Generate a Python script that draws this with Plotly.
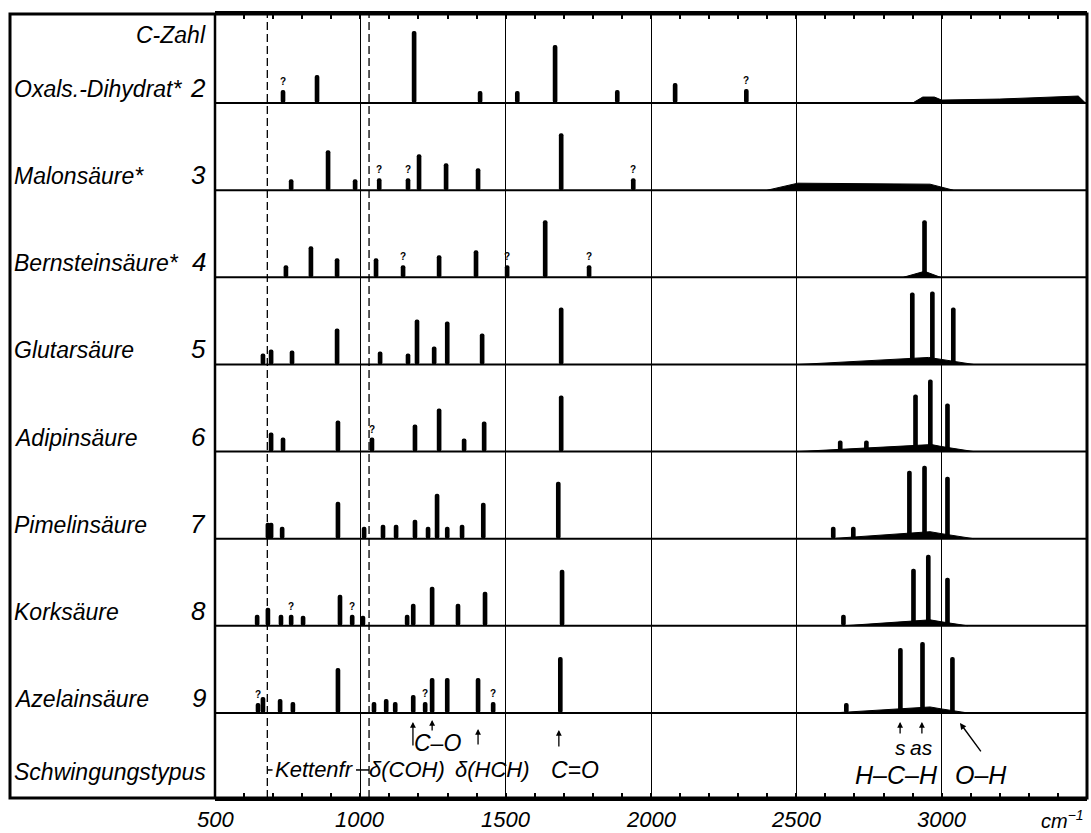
import plotly.graph_objects as go

# ---------------- data ----------------
compounds = ["Oxals.-Dihydrat*", "Malonsäure*", "Bernsteinsäure*", "Glutarsäure",
             "Adipinsäure", "Pimelinsäure", "Korksäure", "Azelainsäure"]
c_zahl = ["2", "3", "4", "5", "6", "7", "8", "9"]

# line positions (cm^-1) and heights (arbitrary intensity units)
oxal_pos = [734, 851, 1185, 1412, 1540, 1670, 1884, 2083, 2328]
oxal_h = [13, 28, 72, 12, 12, 58, 13, 20, 14]
oxal_q = [734, 2328]
oxal_band_x = [2900, 2935, 2975, 3000, 3200, 3420, 3470, 3495]
oxal_band_h = [0, 6, 6, 3, 4, 7, 7, 0]

malon_pos = [762, 889, 982, 1065, 1164, 1202, 1295, 1405, 1691, 1939]
malon_h = [11, 40, 11, 12, 12, 36, 27, 22, 57, 12]
malon_q = [1065, 1164, 1939]
malon_band_x = [2400, 2505, 2960, 3040]
malon_band_h = [0, 7, 6, 0]

bern_pos = [744, 830, 920, 1054, 1147, 1271, 1398, 1505, 1636, 1787, 2941]
bern_h = [12, 31, 19, 19, 12, 22, 27, 12, 57, 12, 57]
bern_q = [1147, 1505, 1787]
bern_band_x = [2868, 2941, 2996]
bern_band_h = [0, 6, 0]

glut_pos = [665, 693, 765, 920, 1068, 1164, 1195, 1254, 1299, 1419, 1691, 2899, 2968, 3040]
glut_h = [11, 15, 14, 36, 13, 11, 45, 18, 43, 31, 57, 72, 73, 57]
glut_q = []
glut_band_x = [2510, 2955, 3000, 3110]
glut_band_h = [0, 7, 5, 0]

adip_pos = [693, 734, 923, 1040, 1188, 1271, 1357, 1426, 1691, 2651, 2741, 2910, 2961, 3020]
adip_h = [19, 14, 31, 14, 27, 43, 13, 30, 56, 11, 11, 57, 72, 48]
adip_q = [1040]
adip_band_x = [2505, 2965, 3000, 3110]
adip_band_h = [0, 7, 5, 0]

pime_pos = [682, 693, 731, 923, 1013, 1078, 1123, 1188, 1233, 1264, 1299, 1350, 1423,
            1681, 2627, 2696, 2889, 2941, 3020]
pime_h = [16, 16, 12, 37, 12, 14, 14, 19, 12, 45, 12, 14, 36, 57, 12, 12, 68, 73, 62]
pime_q = []
pime_band_x = [2615, 2960, 3000, 3110]
pime_band_h = [0, 7, 5, 0]

kork_pos = [645, 682, 727, 762, 803, 930, 972, 1009, 1161, 1182, 1247, 1336, 1429, 1694,
            2662, 2903, 2954, 3020]
kork_h = [11, 18, 11, 11, 10, 31, 11, 10, 11, 22, 39, 22, 34, 56, 11, 57, 71, 48]
kork_q = [762, 972]
kork_band_x = [2660, 2960, 3000, 3090]
kork_band_h = [0, 6, 4, 0]

azel_pos = [648, 665, 724, 768, 923, 1047, 1089, 1120, 1182, 1223, 1247, 1299, 1405,
            1457, 1688, 2672, 2858, 2934, 3037]
azel_h = [10, 16, 14, 11, 45, 11, 14, 11, 18, 11, 35, 35, 35, 11, 56, 10, 65, 71, 56]
azel_q = [648, 1223, 1457]
azel_band_x = [2625, 2960, 3000, 3090]
azel_band_h = [0, 6, 4, 0]

major_ticks = [500, 1000, 1500, 2000, 2500, 3000]
tick_labels = ["500", "1000", "1500", "2000", "2500", "3000"]
dashed_lines = [680, 1030]

# Schwingungstypus row
type_labels = ["Kettenfr", "δ(COH)", "δ(HCH)", "C–O", "C=O", "s", "as", "H–C–H", "O–H"]
type_label_x = [841, 1160, 1453, 1264, 1739, 2857, 2932, 2846, 3135]
type_label_y = [-57, -57, -57, -30, -57, -35, -35, -62, -62]
type_label_size = [22, 22, 22, 23, 23, 21, 21, 25, 25]
arrow_x = [1181, 1247, 1405, 1683, 2857, 2932]
arrow_head_y = [-9, -7, -16, -17, -9, -9]
arrow_len = [25, 12, 17, 18, 13, 13]

spectra = [
    (oxal_pos, oxal_h, oxal_q, oxal_band_x, oxal_band_h),
    (malon_pos, malon_h, malon_q, malon_band_x, malon_band_h),
    (bern_pos, bern_h, bern_q, bern_band_x, bern_band_h),
    (glut_pos, glut_h, glut_q, glut_band_x, glut_band_h),
    (adip_pos, adip_h, adip_q, adip_band_x, adip_band_h),
    (pime_pos, pime_h, pime_q, pime_band_x, pime_band_h),
    (kork_pos, kork_h, kork_q, kork_band_x, kork_band_h),
    (azel_pos, azel_h, azel_q, azel_band_x, azel_band_h),
]

# ---------------- figure ----------------
ROW = 87.13
baselines = [(7 - i) * ROW for i in range(8)]
FONT = "Liberation Sans"

fig = go.Figure()
annotations = []

for i, (pos, h, q, bx, bh) in enumerate(spectra):
    b = baselines[i]
    fig.add_trace(go.Scatter(
        x=bx, y=[b + v for v in bh], mode="lines", fill="toself",
        fillcolor="black", line=dict(color="black", width=1),
        hoverinfo="skip", showlegend=False))
    fig.add_trace(go.Bar(
        x=pos, y=h, base=[b] * len(pos), width=16,
        marker=dict(color="black", line=dict(width=0), cornerradius=2),
        hoverinfo="skip", showlegend=False))
    for qx in q:
        hv = h[pos.index(qx)]
        annotations.append(dict(
            x=qx, y=b + hv + 1, xref="x", yref="y", text="?", showarrow=False,
            yanchor="bottom", xanchor="center",
            font=dict(family=FONT, size=10, color="black", weight="bold")))
    # row labels
    annotations.append(dict(
        x=(12 - 215) / 872, y=b + 14, xref="paper", yref="y", text=compounds[i],
        showarrow=False, xanchor="left", yanchor="middle",
        font=dict(family=FONT, size=23, color="black", style="italic")))
    annotations.append(dict(
        x=(208 - 215) / 872, y=b + 15, xref="paper", yref="y", text=c_zahl[i],
        showarrow=False, xanchor="right", yanchor="middle",
        font=dict(family=FONT, size=26, color="black", style="italic")))

annotations.append(dict(
    x=(208 - 215) / 872, y=7 * ROW + 68, xref="paper", yref="y", text="C-Zahl",
    showarrow=False, xanchor="right", yanchor="middle",
    font=dict(family=FONT, size=23, color="black", style="italic")))
annotations.append(dict(
    x=(12 - 215) / 872, y=-59, xref="paper", yref="y", text="Schwingungstypus",
    showarrow=False, xanchor="left", yanchor="middle",
    font=dict(family=FONT, size=23, color="black", style="italic")))

for t, tx, ty, ts in zip(type_labels, type_label_x, type_label_y, type_label_size):
    annotations.append(dict(
        x=tx, y=ty, xref="x", yref="y", text=t, showarrow=False,
        xanchor="center", yanchor="middle",
        font=dict(family=FONT, size=ts, color="black", style="italic")))

for ax_, ay_, al in zip(arrow_x, arrow_head_y, arrow_len):
    annotations.append(dict(
        x=ax_, y=ay_, xref="x", yref="y", text="", showarrow=True,
        ax=0, ay=al, arrowhead=2, arrowsize=0.9, arrowwidth=1.3, arrowcolor="black"))

# O-H diagonal arrow
annotations.append(dict(
    x=3063, y=-10, xref="x", yref="y", text="", showarrow=True,
    ax=22, ay=30, arrowhead=2, arrowsize=0.9, arrowwidth=1.4, arrowcolor="black"))

# x tick labels (placed on the x scale, below the frame)
for tv, tl in zip(major_ticks, tick_labels):
    annotations.append(dict(
        x=tv, y=-0.027, xref="x", yref="paper", text=tl, showarrow=False,
        xanchor="center", yanchor="middle",
        font=dict(family=FONT, size=22, color="black", style="italic")))

# unit label
annotations.append(dict(
    x=(1062 - 215) / 872, y=-0.027, xref="paper", yref="paper", text="cm<sup>−1</sup>",
    showarrow=False, xanchor="center", yanchor="middle",
    font=dict(family=FONT, size=20, color="black", style="italic")))

shapes = []
# row baselines
for b in baselines:
    shapes.append(dict(type="line", xref="x", yref="y", x0=500, x1=3500, y0=b, y1=b,
                       line=dict(color="black", width=2)))
# dashed verticals
for d in dashed_lines:
    shapes.append(dict(type="line", xref="x", yref="paper", x0=d, x1=d, y0=0, y1=1,
                       line=dict(color="black", width=1.3, dash="8px,4px")))
# small bracket marks for "Kettenfr"
shapes.append(dict(type="line", xref="x", yref="y", x0=680, x1=698, y0=-57, y1=-57,
                   line=dict(color="black", width=1.5)))
shapes.append(dict(type="line", xref="x", yref="y", x0=985, x1=1030, y0=-57, y1=-57,
                   line=dict(color="black", width=1.5)))
# outer frame and divider
shapes.append(dict(type="rect", xref="paper", yref="paper", x0=(10 - 215) / 872, x1=1.0,
                   y0=0, y1=1, line=dict(color="black", width=3)))
shapes.append(dict(type="line", xref="paper", yref="paper", x0=0, x1=0, y0=0, y1=1,
                   line=dict(color="black", width=2.5)))

fig.update_layout(
    width=1091, height=833,
    margin=dict(l=215, r=4, t=14, b=35, autoexpand=False),
    paper_bgcolor="white", plot_bgcolor="white",
    barmode="overlay", showlegend=False,
    annotations=annotations, shapes=shapes,
    xaxis=dict(range=[500, 3500], tickvals=major_ticks, showticklabels=False,
               ticks="inside", ticklen=5, tickwidth=1.5, tickcolor="black",
               showline=True, linecolor="black", linewidth=3, mirror="ticks",
               showgrid=True, gridcolor="black", gridwidth=1.3,
               minor=dict(dtick=100, ticks="inside", ticklen=5, tickwidth=1.5,
                          tickcolor="black", showgrid=False),
               automargin=False, zeroline=False, fixedrange=True),
    yaxis=dict(range=[-0.976 * ROW, 8.022 * ROW], showgrid=False, zeroline=False,
               showticklabels=False, ticks="", showline=False, fixedrange=True,
               automargin=False),
)

fig.write_html("out.html", config={"displayModeBar": False},
               post_script="document.body.style.margin='0px';document.body.style.overflow='hidden';")
